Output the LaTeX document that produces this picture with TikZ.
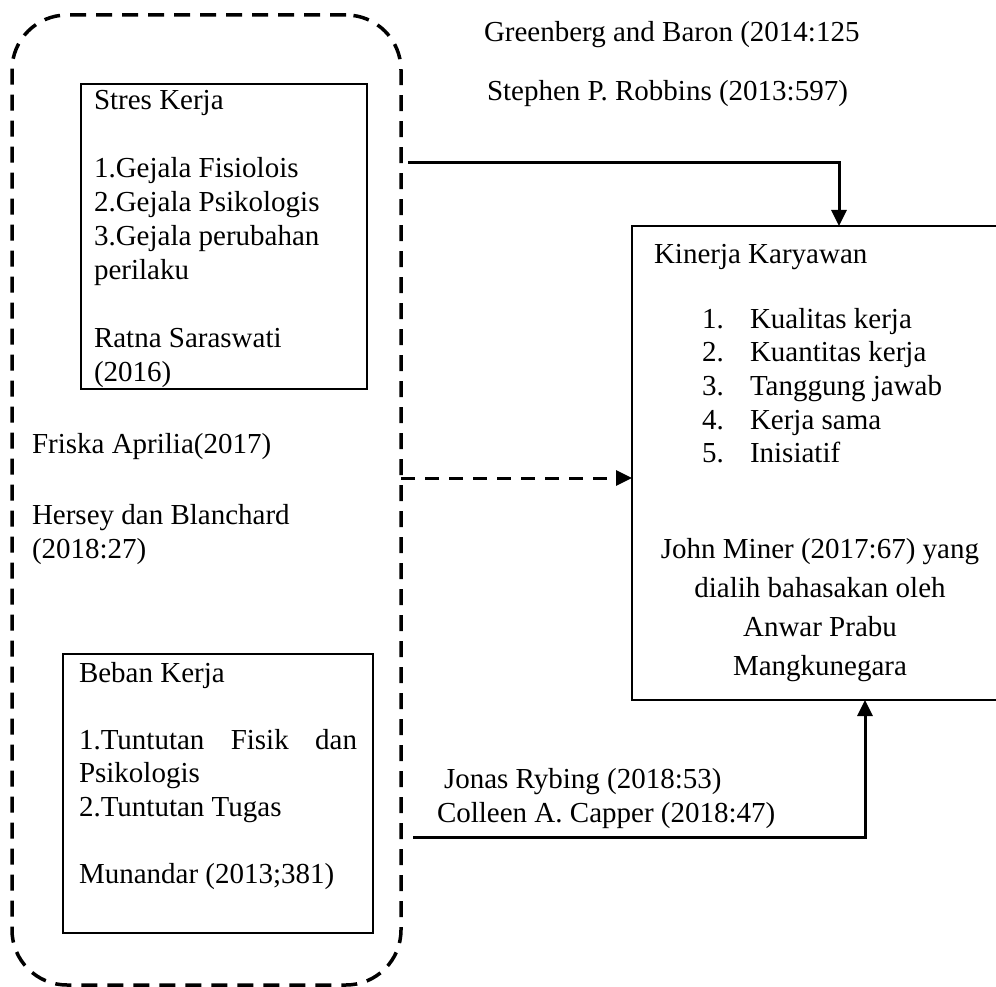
\documentclass[tikz,border=0pt]{standalone}
\usepackage{fontspec}
\setmainfont{Liberation Serif}
\usetikzlibrary{arrows.meta}
\newcommand\fs{\rule{0pt}{24pt}}
\begin{document}
\begin{tikzpicture}[x=1pt,y=-1pt,
  every node/.style={inner sep=0pt, outer sep=0pt},
  txt/.style={font=\fontsize{29}{34}\selectfont, anchor=base west},
  block/.style={font=\fontsize{29}{#1}\selectfont, text width=330pt, align=flush left, anchor=north west},
  cblock/.style={font=\fontsize{29}{#1}\selectfont, text width=360pt, align=flush center, anchor=north},
  box/.style={draw, line width=2pt, anchor=north west},
  group/.style={draw, line width=3.5pt, dash pattern=on 16pt off 10pt, rounded corners=55pt, anchor=north west},
  arr/.style={line width=3pt, -{Triangle[width=15pt,length=16pt]}},
  darr/.style={arr, dash pattern=on 14pt off 10pt},
]
\useasboundingbox (0,0) rectangle (996,987);

% container
\node[group, minimum width=389pt, minimum height=970pt] (grp) at (12,15) {};

% boxes
\node[box, minimum width=286pt, minimum height=305pt] (stres) at (81,84) {};
\node[box, minimum width=310pt, minimum height=279pt] (beban) at (63,654) {};
\node[box, minimum width=376pt, minimum height=474pt] (kin) at (632,226) {};

% box texts
\node[block=34] (stresT) at (94,86) {\fs Stres Kerja\\[34pt]
1.Gejala Fisiolois\\
2.Gejala Psikologis\\
3.Gejala perubahan\\
perilaku\\[34pt]
Ratna Saraswati\\
(2016)};

\node[block=33.6] (bebanT) at (79,658) {\fs Beban Kerja\\[33.6pt]
\makebox[278pt]{1.Tuntutan\hfill Fisik\hfill dan}\\
Psikologis\\
2.Tuntutan Tugas\\[33.6pt]
Munandar (2013;381)};

\node[txt] (kinT) at (654,263) {Kinerja Karyawan};
\node[block=33.7] (kinL) at (702,304) {\fs\makebox[48pt][l]{1.}Kualitas kerja\\
\makebox[48pt][l]{2.}Kuantitas kerja\\
\makebox[48pt][l]{3.}Tanggung jawab\\
\makebox[48pt][l]{4.}Kerja sama\\
\makebox[48pt][l]{5.}Inisiatif};
\node[cblock=39] (kinR) at (820,534) {\fs John Miner (2017:67) yang\\
dialih bahasakan oleh\\
Anwar Prabu\\
Mangkunegara};

% free texts
\node[txt] (gb) at (484,42) {Greenberg and Baron (2014:125};
\node[txt] (sr) at (487,101) {Stephen P. Robbins (2013:597)};
\node[txt] (fa) at (32,453) {Friska Aprilia(2017)};
\node[block=34] (hb) at (32,500) {\fs Hersey dan Blanchard\\(2018:27)};
\node[txt] (jr) at (444,788) {Jonas Rybing (2018:53)};
\node[txt] (cc) at (437,822) {Colleen A. Capper (2018:47)};

% connectors
\coordinate (s1) at (408,163);
\coordinate (c1) at (839,163);
\draw[arr] (s1) -- (c1) -- (c1 |- kin.north);

\coordinate (s2) at (401,478);
\draw[darr] (s2) -- (s2 -| kin.west);

\coordinate (s3) at (413,837);
\coordinate (c3) at (865,837);
\draw[arr] (s3) -- (c3) -- (c3 |- kin.south);
\end{tikzpicture}
\end{document}
